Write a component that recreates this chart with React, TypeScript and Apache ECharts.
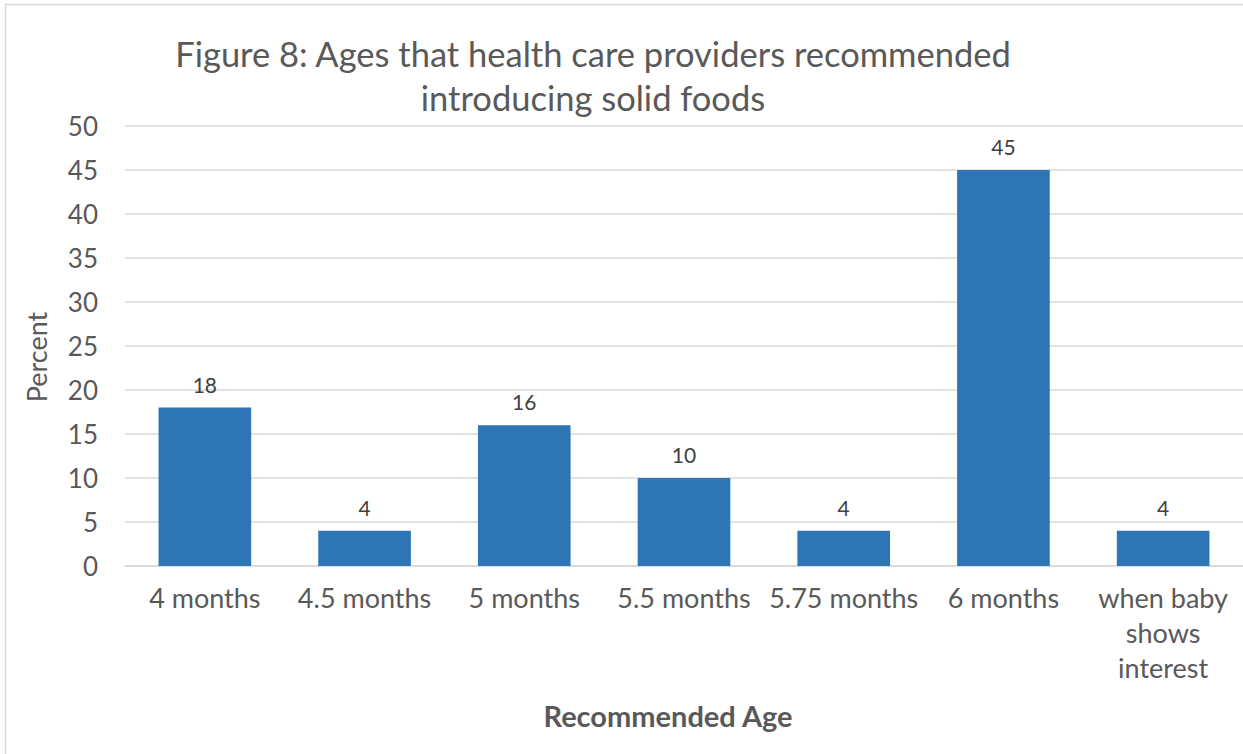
import React, { useEffect, useRef } from "react";
import * as echarts from "echarts";

const categories = [
  "4 months",
  "4.5 months",
  "5 months",
  "5.5 months",
  "5.75 months",
  "6 months",
  "when baby\nshows\ninterest",
];
const percentValues = [18, 4, 16, 10, 4, 45, 4];
const yTicks = { min: 0, max: 50, interval: 5 };

const FONT = "Lato, 'Open Sans', sans-serif";
const TEXT = "#595959";

export default function App() {
  const ref = useRef<HTMLDivElement>(null);

  useEffect(() => {
    if (!ref.current) return;
    const chart = echarts.init(ref.current, null, { renderer: "svg" });
    chart.setOption({
      animation: false,
      backgroundColor: "#ffffff",
      textStyle: { fontFamily: FONT },
      graphic: [
        {
          type: "rect",
          shape: { x: 5.5, y: 4.5, width: 1260, height: 770 },
          style: { fill: "none", stroke: "#d9d9d9", lineWidth: 1.5 },
          silent: true,
        },
        {
          type: "text",
          x: 593,
          y: 53,
          style: {
            text: "Figure 8: Ages that health care providers recommended",
            fontSize: 34.5,
            fontFamily: FONT,
            fill: TEXT,
            textAlign: "center",
            textVerticalAlign: "middle",
          },
        },
        {
          type: "text",
          x: 593,
          y: 97,
          style: {
            text: "introducing solid foods",
            fontSize: 34.5,
            fontFamily: FONT,
            fill: TEXT,
            textAlign: "center",
            textVerticalAlign: "middle",
          },
        },
        {
          type: "text",
          x: 36,
          y: 357,
          rotation: Math.PI / 2,
          style: {
            text: "Percent",
            fontSize: 27,
            fontFamily: FONT,
            fill: TEXT,
            textAlign: "center",
            textVerticalAlign: "middle",
          },
        },
        {
          type: "text",
          x: 668,
          y: 715,
          style: {
            text: "Recommended Age",
            fontSize: 29,
            fontWeight: "bold",
            fontFamily: FONT,
            fill: TEXT,
            textAlign: "center",
            textVerticalAlign: "middle",
          },
        },
      ],
      grid: { left: 125, right: -2, top: 126, bottom: 188, containLabel: false },
      xAxis: {
        type: "category",
        data: categories,
        axisTick: { show: false },
        axisLine: { lineStyle: { color: "#d9d9d9", width: 1.5 } },
        axisLabel: {
          color: TEXT,
          fontSize: 27,
          fontFamily: FONT,
          lineHeight: 35,
          margin: 14,
          interval: 0,
        },
      },
      yAxis: {
        type: "value",
        min: yTicks.min,
        max: yTicks.max,
        interval: yTicks.interval,
        axisLine: { show: false },
        axisTick: { show: false },
        splitLine: { lineStyle: { color: "#d9d9d9", width: 1.5 } },
        axisLabel: { color: TEXT, fontSize: 26, fontFamily: FONT, margin: 27 },
      },
      series: [
        {
          type: "bar",
          data: percentValues,
          barWidth: "58%",
          itemStyle: { color: "#2E75B6" },
          label: {
            show: true,
            position: "top",
            distance: 13,
            color: "#404040",
            fontSize: 21,
            fontFamily: FONT,
          },
        },
      ],
    });
    return () => chart.dispose();
  }, []);

  return (
    <div
      ref={ref}
      style={{ position: "fixed", left: 0, top: 0, width: 1243, height: 754 }}
    />
  );
}
